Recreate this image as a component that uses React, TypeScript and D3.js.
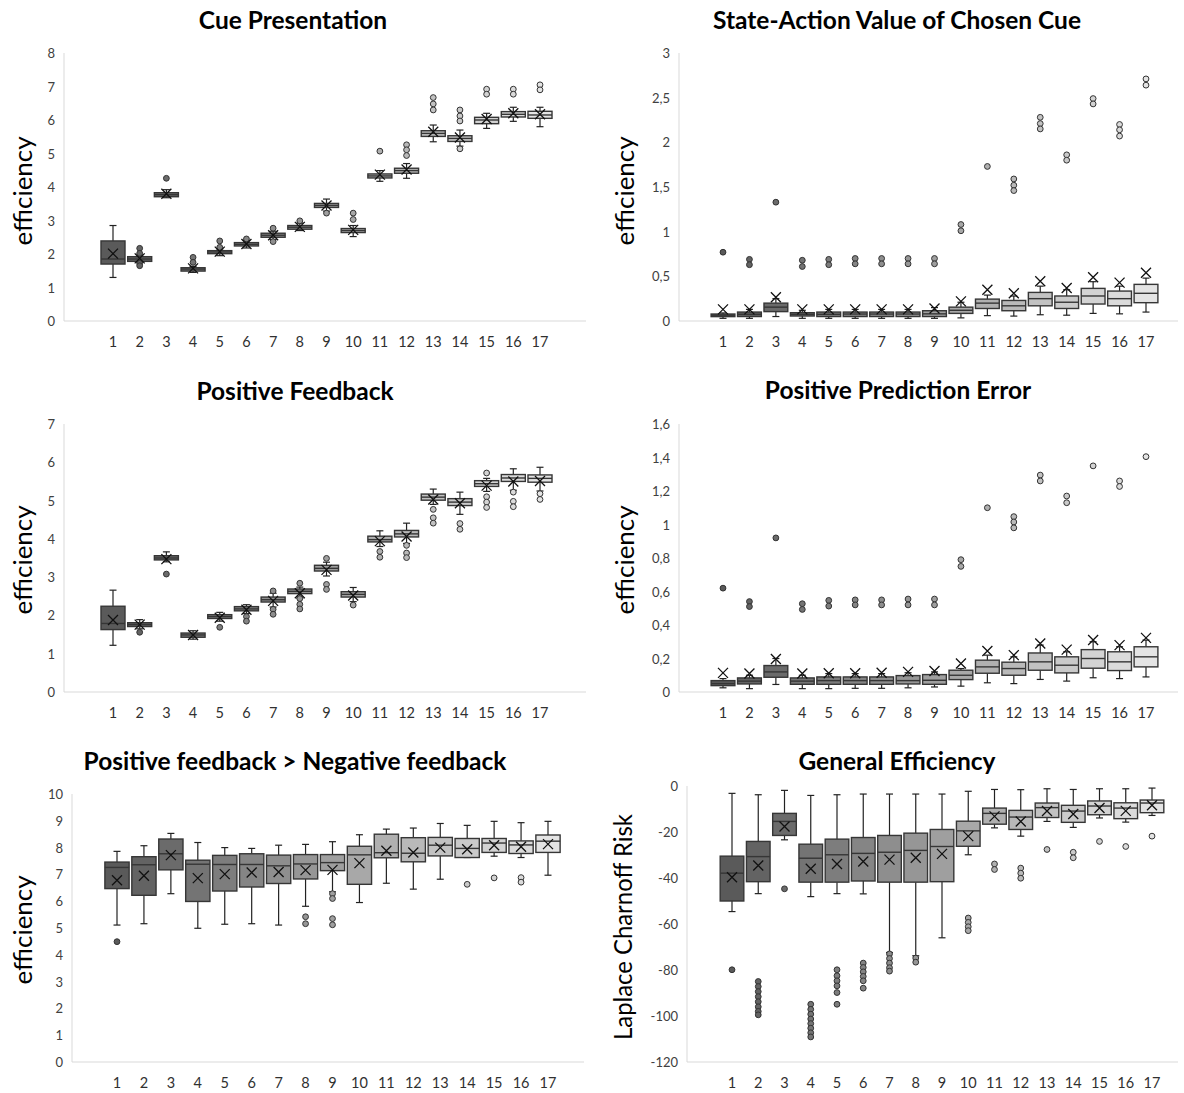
import React from "react";
import * as d3 from "d3";

const categories = d3.range(1, 18).map(String);

// [whiskerLow, q1, median, q3, whiskerHigh, mean]
const cueStats = [
  [1.30, 1.70, 1.85, 2.39, 2.85, 2.01], [1.75, 1.78, 1.85, 1.92, 1.97, 1.87], [3.68, 3.71, 3.77, 3.83, 3.92, 3.80],
  [1.45, 1.49, 1.55, 1.59, 1.63, 1.57], [1.95, 2.01, 2.06, 2.10, 2.15, 2.07], [2.18, 2.24, 2.29, 2.34, 2.40, 2.30],
  [2.43, 2.50, 2.56, 2.62, 2.68, 2.56], [2.70, 2.74, 2.80, 2.85, 2.92, 2.81], [3.28, 3.39, 3.45, 3.51, 3.64, 3.45],
  [2.52, 2.64, 2.70, 2.76, 2.85, 2.72], [4.17, 4.27, 4.33, 4.39, 4.49, 4.37], [4.26, 4.41, 4.49, 4.56, 4.70, 4.52],
  [5.35, 5.51, 5.60, 5.68, 5.85, 5.65], [5.22, 5.36, 5.45, 5.53, 5.70, 5.48], [5.75, 5.89, 6.00, 6.08, 6.20, 6.03],
  [5.96, 6.09, 6.17, 6.25, 6.38, 6.20], [5.80, 6.05, 6.15, 6.26, 6.38, 6.17],
];
const cueOutliers = [
  [], [2.17, 2.02, 1.72, 1.65], [4.26], [1.90, 1.75], [2.39, 2.20], [2.45], [2.77, 2.37], [2.99], [3.22],
  [3.22, 3.03], [5.07], [5.26, 5.11, 4.94], [6.67, 6.48, 6.30], [6.30, 6.12, 5.97, 5.14], [6.92, 6.77], [6.92, 6.77], [7.05, 6.90],
];

const stateStats = [
  [0.03, 0.049, 0.065, 0.078, 0.09, 0.13], [0.03, 0.05, 0.075, 0.10, 0.13, 0.13], [0.05, 0.105, 0.155, 0.20, 0.25, 0.265],
  [0.03, 0.056, 0.075, 0.093, 0.12, 0.13], [0.03, 0.05, 0.075, 0.10, 0.13, 0.13], [0.03, 0.05, 0.078, 0.10, 0.13, 0.13],
  [0.03, 0.05, 0.078, 0.10, 0.13, 0.13], [0.03, 0.05, 0.078, 0.10, 0.13, 0.13], [0.03, 0.05, 0.08, 0.115, 0.15, 0.14],
  [0.035, 0.085, 0.12, 0.155, 0.21, 0.22], [0.06, 0.14, 0.20, 0.245, 0.29, 0.35], [0.055, 0.115, 0.17, 0.23, 0.28, 0.31],
  [0.07, 0.17, 0.25, 0.32, 0.39, 0.445], [0.065, 0.14, 0.21, 0.28, 0.35, 0.37], [0.085, 0.19, 0.28, 0.365, 0.44, 0.49],
  [0.08, 0.17, 0.25, 0.335, 0.39, 0.43], [0.10, 0.205, 0.31, 0.41, 0.48, 0.54],
];
const stateOutliers = [
  [0.77], [0.69, 0.63], [1.33], [0.68, 0.61], [0.69, 0.63], [0.70, 0.64], [0.70, 0.64], [0.70, 0.64], [0.70, 0.64],
  [1.08, 1.01], [1.73], [1.59, 1.52, 1.46], [2.28, 2.21, 2.15], [1.86, 1.80], [2.49, 2.43], [2.20, 2.14, 2.07], [2.71, 2.64],
];

const posFbStats = [
  [1.22, 1.63, 1.79, 2.24, 2.66, 1.88], [1.65, 1.71, 1.76, 1.81, 1.89, 1.76], [3.40, 3.45, 3.50, 3.56, 3.66, 3.47],
  [1.38, 1.43, 1.49, 1.54, 1.60, 1.49], [1.85, 1.92, 1.97, 2.02, 2.08, 1.94], [2.05, 2.12, 2.17, 2.23, 2.28, 2.15],
  [2.22, 2.35, 2.41, 2.48, 2.58, 2.38], [2.45, 2.57, 2.63, 2.69, 2.74, 2.58], [3.03, 3.16, 3.23, 3.31, 3.39, 3.19],
  [2.36, 2.48, 2.55, 2.62, 2.73, 2.52], [3.80, 3.92, 3.98, 4.07, 4.21, 3.94], [3.88, 4.05, 4.13, 4.22, 4.41, 4.06],
  [4.90, 5.01, 5.09, 5.17, 5.30, 5.03], [4.64, 4.87, 4.96, 5.05, 5.22, 4.93], [5.24, 5.37, 5.44, 5.52, 5.58, 5.39],
  [5.27, 5.50, 5.59, 5.68, 5.83, 5.50], [5.25, 5.48, 5.58, 5.67, 5.87, 5.51],
];
const posFbOutliers = [
  [], [1.56], [3.08], [], [1.69], [1.97, 1.85], [2.64, 2.16, 2.03], [2.84, 2.44, 2.29, 2.17], [3.49, 2.81, 2.68],
  [2.27], [3.67, 3.52], [3.83, 3.63, 3.51], [4.77, 4.55, 4.41], [4.40, 4.25], [5.72, 5.10, 4.96, 4.82], [5.22, 4.98, 4.84], [5.18, 5.03],
];

const ppeStats = [
  [0.025, 0.038, 0.05, 0.068, 0.08, 0.114], [0.02, 0.048, 0.065, 0.084, 0.10, 0.11], [0.045, 0.088, 0.12, 0.158, 0.20, 0.197],
  [0.02, 0.046, 0.065, 0.084, 0.10, 0.11], [0.02, 0.046, 0.068, 0.09, 0.11, 0.112], [0.022, 0.046, 0.068, 0.09, 0.11, 0.112],
  [0.022, 0.046, 0.068, 0.09, 0.11, 0.115], [0.025, 0.048, 0.068, 0.098, 0.115, 0.12], [0.03, 0.046, 0.07, 0.104, 0.12, 0.125],
  [0.035, 0.074, 0.10, 0.13, 0.14, 0.17], [0.055, 0.112, 0.15, 0.19, 0.22, 0.245], [0.05, 0.10, 0.14, 0.178, 0.21, 0.22],
  [0.075, 0.13, 0.18, 0.233, 0.28, 0.29], [0.065, 0.114, 0.16, 0.21, 0.24, 0.253], [0.085, 0.142, 0.20, 0.253, 0.30, 0.31],
  [0.08, 0.128, 0.18, 0.24, 0.27, 0.28], [0.09, 0.15, 0.21, 0.27, 0.31, 0.323],
];
const ppeOutliers = [
  [0.62], [0.54, 0.51], [0.92], [0.527, 0.493], [0.547, 0.513], [0.55, 0.52], [0.55, 0.52], [0.555, 0.52], [0.555, 0.52],
  [0.79, 0.75], [1.10], [1.047, 1.015, 0.98], [1.295, 1.26], [1.17, 1.13], [1.35], [1.26, 1.227], [1.405],
];

const posNegStats = [
  [5.11, 6.47, 7.26, 7.46, 7.86, 6.78], [5.16, 6.22, 7.36, 7.66, 8.07, 6.95], [6.28, 7.17, 7.77, 8.32, 8.53, 7.72],
  [4.99, 5.99, 7.38, 7.53, 8.19, 6.86], [5.14, 6.38, 7.37, 7.71, 8.00, 7.01], [5.16, 6.53, 7.37, 7.77, 7.97, 7.07],
  [5.11, 6.66, 7.32, 7.72, 8.09, 7.09], [5.81, 6.83, 7.39, 7.74, 8.12, 7.16], [6.35, 7.14, 7.44, 7.74, 8.22, 7.17],
  [5.95, 6.63, 7.73, 8.05, 8.48, 7.42], [6.67, 7.62, 7.81, 8.50, 8.69, 7.88], [6.45, 7.47, 7.79, 8.37, 8.73, 7.82],
  [6.82, 7.69, 8.09, 8.38, 8.90, 8.00], [7.63, 7.63, 7.97, 8.34, 8.83, 7.94], [7.68, 7.82, 8.17, 8.34, 8.98, 8.09],
  [7.63, 7.78, 8.10, 8.25, 8.93, 8.03], [6.97, 7.82, 8.24, 8.47, 8.98, 8.13],
];
const posNegOutliers = [
  [4.49], [], [], [], [], [], [], [5.42, 5.16], [6.28, 6.10, 5.35, 5.12],
  [], [], [], [], [6.63], [6.87], [6.88, 6.71], [],
];

const generalStats = [
  [-54.6, -50.0, -37.9, -30.5, -3.2, -39.7], [-46.8, -41.6, -30.7, -24.1, -3.8, -34.6], [-23.4, -21.5, -15.4, -11.9, -1.9, -17.6],
  [-48.1, -41.8, -31.4, -25.3, -4.1, -36.0], [-46.8, -41.8, -29.9, -23.1, -3.8, -33.9], [-46.9, -41.3, -29.3, -22.4, -3.5, -32.8],
  [-72.4, -41.8, -28.8, -21.5, -3.5, -32.0], [-73.8, -41.8, -28.0, -20.5, -3.5, -31.2], [-66.0, -41.6, -26.3, -18.9, -3.5, -29.5],
  [-29.9, -26.2, -19.5, -15.3, -2.3, -21.8], [-18.2, -16.6, -11.9, -9.6, -1.5, -13.2], [-21.8, -18.9, -13.5, -10.6, -1.6, -15.4],
  [-15.4, -13.7, -9.4, -7.4, -1.2, -10.9], [-18.0, -15.8, -10.9, -8.4, -1.5, -12.2], [-13.9, -12.5, -8.7, -6.5, -1.2, -9.6],
  [-15.7, -14.2, -9.6, -7.3, -1.2, -10.8], [-12.8, -11.6, -7.4, -6.1, -0.9, -8.4],
];
const generalOutliers = [
  [-79.9], [-85, -87.2, -89.4, -91.6, -93.8, -96, -98, -99.5], [-44.7],
  [-94.9, -97.1, -99.2, -101.3, -103.3, -105.3, -107.3, -109.1], [-79.9, -82.5, -84.7, -86.9, -89.8, -94.9],
  [-77, -78.9, -80.8, -82.8, -84.7, -87.9], [-73, -75, -77, -79, -80.5], [-74.8, -76.6], [],
  [-57.4, -59.3, -61.2, -62.9], [-33.9, -36.3], [-35.7, -37.9, -40.1], [-27.6], [-28.8, -31.2], [-24.1], [-26.3], [-21.8],
];

const FONT = "Lato, 'Open Sans', sans-serif";
const fillScale = d3.scaleLinear<string>().domain([0, 16]).range(["#5a5a5a", "#e4e4e4"]).interpolate(d3.interpolateRgb);

const fmt = (v: number) => String(+v.toFixed(2)).replace(".", ",");

type Cfg = {
  title: string; ylabel: string; ylabelLen: number; x0: number; x1: number; yTop: number; yBot: number;
  c1: number; c17: number; domain: [number, number]; step: number; titleX: number; titleY: number; ylabelX: number; ylabelY: number;
};

function Panel({ cfg, stats, outliers }: { cfg: Cfg; stats: number[][]; outliers: number[][] }) {
  const x = d3.scalePoint<string>().domain(categories).range([cfg.c1, cfg.c17]);
  const y = d3.scaleLinear().domain(cfg.domain).range([cfg.yBot, cfg.yTop]);
  const ticks = d3.range(0, Math.round((cfg.domain[1] - cfg.domain[0]) / cfg.step) + 1).map((i) => cfg.domain[0] + i * cfg.step);
  const bw = x.step() * 0.9;
  const cap = 3.5;
  const m = 5;
  const stroke = "#363636";
  return (
    <g>
      <text x={cfg.titleX} y={cfg.titleY} textAnchor="middle" fontFamily={FONT} fontWeight={700} fontSize={24.5} fill="#000">{cfg.title}</text>
      <text transform={`translate(${cfg.ylabelX},${cfg.ylabelY}) rotate(-90)`} textAnchor="middle" dominantBaseline="central" fontFamily={FONT} fontSize={25} textLength={cfg.ylabelLen} lengthAdjust="spacingAndGlyphs" fill="#000">{cfg.ylabel}</text>
      <line x1={cfg.x0} x2={cfg.x0} y1={cfg.yTop} y2={cfg.yBot} stroke="#d9d9d9" />
      <line x1={cfg.x0} x2={cfg.x1} y1={cfg.yBot} y2={cfg.yBot} stroke="#d9d9d9" />
      {ticks.map((t) => (
        <text key={t} x={cfg.x0 - 9} y={y(t)} textAnchor="end" dominantBaseline="central" fontFamily={FONT} fontSize={13} fill="#404040">{fmt(t)}</text>
      ))}
      {categories.map((c) => (
        <text key={c} x={x(c)} y={cfg.yBot + 20} textAnchor="middle" dominantBaseline="central" fontFamily={FONT} fontSize={14.5} fill="#303030">{c}</text>
      ))}
      {stats.map((s, i) => {
        const cx = x(categories[i])!;
        const [lo, q1, med, q3, hi, mean] = s;
        const fill = fillScale(i);
        return (
          <g key={i}>
            <line x1={cx} x2={cx} y1={y(hi)} y2={y(q3)} stroke="#222" strokeWidth={1.2} />
            <line x1={cx} x2={cx} y1={y(q1)} y2={y(lo)} stroke="#222" strokeWidth={1.2} />
            <line x1={cx - cap} x2={cx + cap} y1={y(hi)} y2={y(hi)} stroke="#222" strokeWidth={1.2} />
            <line x1={cx - cap} x2={cx + cap} y1={y(lo)} y2={y(lo)} stroke="#222" strokeWidth={1.2} />
            <rect x={cx - bw / 2} y={y(q3)} width={bw} height={Math.max(0.5, y(q1) - y(q3))} fill={fill} stroke={stroke} strokeWidth={1.4} />
            <line x1={cx - bw / 2} x2={cx + bw / 2} y1={y(med)} y2={y(med)} stroke={stroke} strokeWidth={1.4} />
            {outliers[i].map((o, j) => (
              <circle key={j} cx={cx} cy={y(o)} r={2.9} fill={fill} stroke="#333" strokeWidth={1} />
            ))}
            <path d={`M${cx - m},${y(mean) - m}L${cx + m},${y(mean) + m}M${cx - m},${y(mean) + m}L${cx + m},${y(mean) - m}`} stroke="#111" strokeWidth={1.3} fill="none" />
          </g>
        );
      })}
    </g>
  );
}

const panels: { cfg: Cfg; stats: number[][]; outliers: number[][] }[] = [
  { cfg: { title: "Cue Presentation", ylabel: "efficiency", ylabelLen: 109, x0: 64, x1: 586, yTop: 53, yBot: 321, c1: 113, c17: 540, domain: [0, 8], step: 1, titleX: 293, titleY: 29, ylabelX: 22, ylabelY: 191 }, stats: cueStats, outliers: cueOutliers },
  { cfg: { title: "State-Action Value of Chosen Cue", ylabel: "efficiency", ylabelLen: 109, x0: 679, x1: 1178, yTop: 53, yBot: 321, c1: 723, c17: 1146, domain: [0, 3], step: 0.5, titleX: 897, titleY: 29, ylabelX: 624, ylabelY: 191 }, stats: stateStats, outliers: stateOutliers },
  { cfg: { title: "Positive Feedback", ylabel: "efficiency", ylabelLen: 109, x0: 64, x1: 586, yTop: 424, yBot: 692, c1: 113, c17: 540, domain: [0, 7], step: 1, titleX: 295, titleY: 400, ylabelX: 22, ylabelY: 560 }, stats: posFbStats, outliers: posFbOutliers },
  { cfg: { title: "Positive Prediction Error", ylabel: "efficiency", ylabelLen: 109, x0: 679, x1: 1178, yTop: 424, yBot: 692, c1: 723, c17: 1146, domain: [0, 1.6], step: 0.2, titleX: 898, titleY: 399, ylabelX: 624, ylabelY: 560 }, stats: ppeStats, outliers: ppeOutliers },
  { cfg: { title: "Positive feedback > Negative feedback", ylabel: "efficiency", ylabelLen: 109, x0: 72, x1: 584, yTop: 794, yBot: 1062, c1: 117, c17: 548, domain: [0, 10], step: 1, titleX: 295, titleY: 770, ylabelX: 22, ylabelY: 930 }, stats: posNegStats, outliers: posNegOutliers },
  { cfg: { title: "General Efficiency", ylabel: "Laplace Charnoff Risk", ylabelLen: 226, x0: 687, x1: 1178, yTop: 786, yBot: 1062, c1: 732, c17: 1152, domain: [-120, 0], step: 20, titleX: 897, titleY: 770, ylabelX: 622, ylabelY: 927 }, stats: generalStats, outliers: generalOutliers },
];

export default function App() {
  return (
    <svg width={1184} height={1093} style={{ position: "absolute", left: 0, top: 0, background: "#fff" }}>
      <rect width={1184} height={1093} fill="#fff" />
      {panels.map((p, i) => (
        <Panel key={i} cfg={p.cfg} stats={p.stats} outliers={p.outliers} />
      ))}
    </svg>
  );
}
